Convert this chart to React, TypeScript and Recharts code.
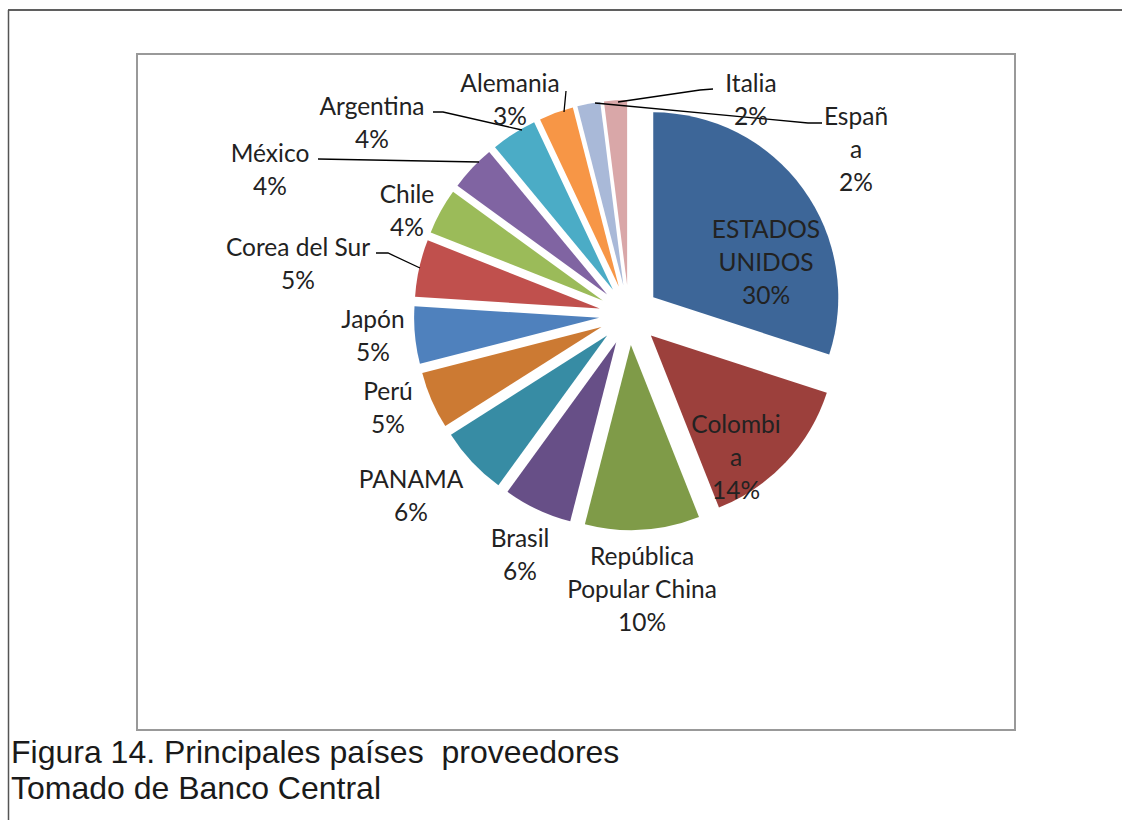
import React from 'react';
import { PieChart, Pie, Sector } from 'recharts';

// suppliers, clockwise from 12 o'clock
const countries = [
  'ESTADOS UNIDOS',
  'Colombia',
  'República Popular China',
  'Brasil',
  'PANAMA',
  'Perú',
  'Japón',
  'Corea del Sur',
  'Chile',
  'México',
  'Argentina',
  'Alemania',
  'España',
  'Italia',
];
const shares = [30, 14, 10, 6, 6, 5, 5, 5, 4, 4, 4, 3, 2, 2];

// how Excel wrapped the category names
const labelLines = [
  ['ESTADOS', 'UNIDOS'],
  ['Colombi', 'a'],
  ['República', 'Popular China'],
  ['Brasil'],
  ['PANAMA'],
  ['Perú'],
  ['Japón'],
  ['Corea del Sur'],
  ['Chile'],
  ['México'],
  ['Argentina'],
  ['Alemania'],
  ['Españ', 'a'],
  ['Italia'],
];

const sliceColors = [
  '#3D6698', '#9C403C', '#7F9B48', '#674F87', '#378CA4', '#CC7A33', '#4F81BD',
  '#C0504D', '#9BBB59', '#8064A2', '#4BACC6', '#F79646', '#A9B9D8', '#D9A7A8',
];

const data = countries.map((name, i) => ({ name, value: shares[i] }));

const CX = 629;
const CY = 315;
const RADIUS = 185;
const EXPLODE = 30;
const LINE_GAP = 33;
const RAD = Math.PI / 180;

// label placement (page px), with optional leader line points
const labelLayout: { x: number; y: number; leader?: number[][] }[] = [
  { x: 766, y: 228 },
  { x: 736, y: 423 },
  { x: 642, y: 555 },
  { x: 520, y: 537 },
  { x: 411, y: 478 },
  { x: 388, y: 390 },
  { x: 373, y: 318 },
  { x: 298, y: 246, leader: [[376, 253], [388, 253], [420, 268]] },
  { x: 407, y: 193 },
  { x: 270, y: 152, leader: [[318, 159], [479, 162]] },
  { x: 372, y: 105, leader: [[433, 112], [443, 112], [522, 130]] },
  { x: 510, y: 82, leader: [[566, 91], [564, 112]] },
  { x: 856, y: 115, leader: [[822, 123], [808, 123], [595, 103]] },
  { x: 751, y: 82, leader: [[713, 89], [700, 90], [618, 102]] },
];

const renderSlice = (props: any) => {
  const { cx, cy, midAngle, outerRadius, startAngle, endAngle, index } = props;
  const dx = EXPLODE * Math.cos(-midAngle * RAD);
  const dy = EXPLODE * Math.sin(-midAngle * RAD);
  return (
    <Sector
      key={`slice-${index}`}
      cx={cx + dx}
      cy={cy + dy}
      innerRadius={0}
      outerRadius={outerRadius}
      startAngle={startAngle}
      endAngle={endAngle}
      fill={sliceColors[index]}
      stroke="none"
    />
  );
};

const renderText = (props: any) => {
  const { index, value } = props;
  const pos = labelLayout[index];
  const lines = [...labelLines[index], `${value}%`];
  return (
    <g key={`label-${index}`}>
      {pos.leader && (
        <polyline
          points={pos.leader.map(p => p.join(',')).join(' ')}
          fill="none"
          stroke="#000"
          strokeWidth={1.3}
        />
      )}
      <text
        x={pos.x}
        y={pos.y}
        textAnchor="middle"
        dominantBaseline="central"
        fontFamily="Lato"
        fontSize={24.5}
        fill="#222"
      >
        {lines.map((t, k) => (
          <tspan key={k} x={pos.x} dy={k === 0 ? 0 : LINE_GAP}>
            {t}
          </tspan>
        ))}
      </text>
    </g>
  );
};

const App: React.FC = () => {
  return (
    <div
      style={{
        position: 'absolute',
        left: 0,
        top: 0,
        width: 1122,
        height: 820,
        background: '#fff',
      }}
    >
      <svg width={1122} height={820} style={{ position: 'absolute', left: 0, top: 0 }}>
        <line x1={8} y1={10} x2={1122} y2={10} stroke="#2a2a2a" strokeWidth={1.5} />
        <line x1={8.5} y1={10} x2={8.5} y2={820} stroke="#555" strokeWidth={1.5} />
        <rect x={137} y={54} width={878} height={676} fill="#fff" stroke="#999" strokeWidth={2} />
        <text x={11} y={763} fontFamily="Liberation Sans" fontSize={32} fill="#1a1a1a">
          {'Figura 14. Principales países\u00a0 proveedores'}
        </text>
        <text x={11} y={799} fontFamily="Liberation Sans" fontSize={32} fill="#1a1a1a">
          Tomado de Banco Central
        </text>
      </svg>
      <div style={{ position: 'absolute', left: 0, top: 0 }}>
        <PieChart width={1122} height={820} margin={{ top: 0, right: 0, bottom: 0, left: 0 }}>
          <Pie
            data={data}
            dataKey="value"
            nameKey="name"
            cx={CX}
            cy={CY}
            outerRadius={RADIUS}
            startAngle={90}
            endAngle={-270}
            fill="none"
            stroke="none"
            label={renderSlice}
            labelLine={false}
            isAnimationActive={false}
          />
          <Pie
            data={data}
            dataKey="value"
            nameKey="name"
            cx={CX}
            cy={CY}
            outerRadius={RADIUS}
            startAngle={90}
            endAngle={-270}
            fill="none"
            stroke="none"
            label={renderText}
            labelLine={false}
            isAnimationActive={false}
          />
        </PieChart>
      </div>
    </div>
  );
};

export default App;
